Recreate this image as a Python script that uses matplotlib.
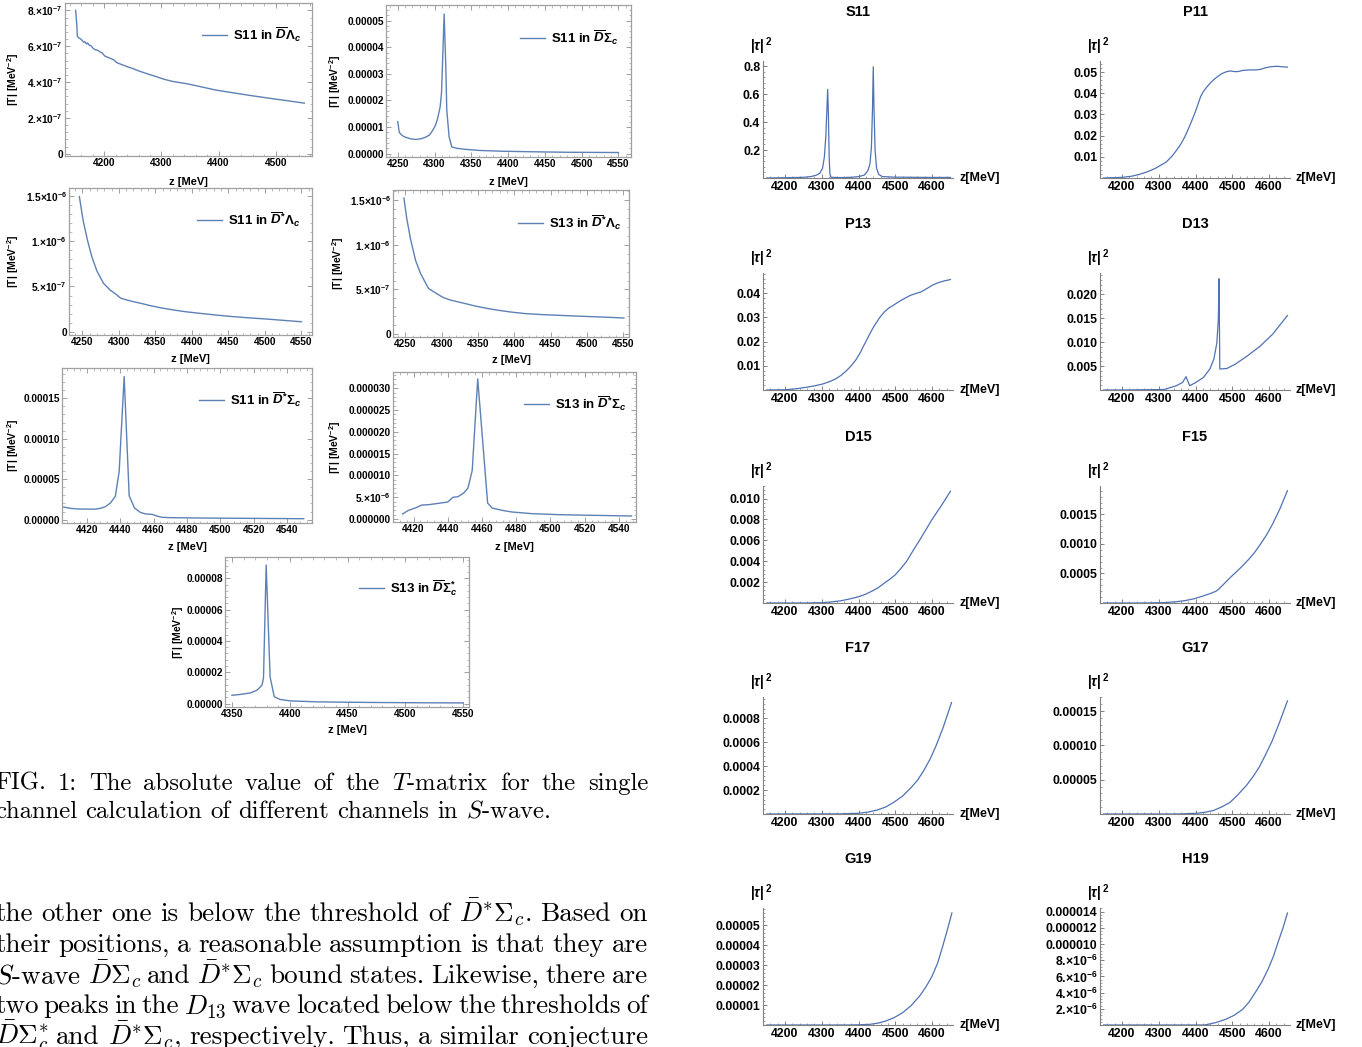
import matplotlib
matplotlib.use("Agg")
import matplotlib.pyplot as plt
from matplotlib.ticker import FixedLocator, FixedFormatter, AutoMinorLocator

W, H, DPI = 1362, 1047, 100

plt.rcParams.update({
    "font.family": ["Liberation Sans", "DejaVu Sans"],
    "font.weight": "bold",
    "mathtext.fontset": "custom",
    "mathtext.rm": "Liberation Sans:bold",
    "mathtext.it": "Liberation Sans:italic:bold",
    "mathtext.bf": "Liberation Sans:bold",
    "mathtext.sf": "Liberation Sans:bold",
    "mathtext.default": "it",
})

# ------------------------------------------------------------------ data
# Left figure: |T| for single channel S-wave calculations
l1_z = [4150, 4152, 4153, 4156, 4159, 4162, 4164, 4166, 4169, 4171, 4174, 4177, 4180, 4184, 4188,
        4192, 4197, 4201, 4206, 4210, 4216, 4222, 4230, 4239, 4250, 4262, 4276, 4291, 4305, 4320,
        4345, 4367, 4395, 4425, 4455, 4483, 4515, 4550]
l1_t = [8.0e-7, 7.2e-7, 6.55e-7, 6.45e-7, 6.4e-7, 6.3e-7, 6.22e-7, 6.25e-7, 6.12e-7, 6.18e-7, 6.05e-7,
        6.02e-7, 5.9e-7, 5.8e-7, 5.78e-7, 5.7e-7, 5.6e-7, 5.45e-7, 5.38e-7, 5.33e-7, 5.25e-7, 5.08e-7,
        4.98e-7, 4.87e-7, 4.75e-7, 4.6e-7, 4.45e-7, 4.3e-7, 4.15e-7, 4.03e-7, 3.9e-7, 3.75e-7, 3.55e-7,
        3.4e-7, 3.25e-7, 3.12e-7, 2.98e-7, 2.82e-7]

l2_z = [4250, 4252, 4256, 4260, 4267, 4274, 4282, 4288, 4293, 4297, 4301, 4304, 4307.6, 4309.5,
        4310.7, 4313, 4315.3, 4316.6, 4319.8, 4323.4, 4330, 4342, 4360, 4390, 4430, 4480, 4550]
l2_t = [1.2e-5, 0.8e-5, 0.68e-5, 0.62e-5, 0.56e-5, 0.53e-5, 0.56e-5, 0.62e-5, 0.7e-5, 0.85e-5,
        1.05e-5, 1.3e-5, 1.76e-5, 2.3e-5, 3.27e-5, 5.25e-5, 3.27e-5, 1.63e-5, 0.63e-5, 0.25e-5,
        0.2e-5, 0.16e-5, 0.12e-5, 0.09e-5, 0.07e-5, 0.05e-5, 0.04e-5]

l3_z = [4246, 4251, 4257, 4263, 4270, 4279, 4288, 4296, 4301, 4304, 4312, 4320, 4332, 4343, 4358,
        4375, 4392, 4411, 4433, 4457, 4480, 4502, 4526, 4550]
l3_t = [1.493e-6, 1.235e-6, 1.014e-6, 0.83e-6, 0.671e-6, 0.535e-6, 0.461e-6, 0.415e-6, 0.38e-6,
        0.367e-6, 0.348e-6, 0.332e-6, 0.31e-6, 0.288e-6, 0.263e-6, 0.24e-6, 0.22e-6, 0.203e-6,
        0.184e-6, 0.166e-6, 0.152e-6, 0.14e-6, 0.125e-6, 0.11e-6]

l4_z = [4248, 4252, 4257, 4264, 4271, 4282, 4292, 4300, 4304, 4313, 4323, 4335, 4346, 4362, 4378,
        4396, 4415, 4438, 4461, 4484, 4507, 4529, 4551]
l4_t = [1.52e-6, 1.29e-6, 1.068e-6, 0.826e-6, 0.677e-6, 0.51e-6, 0.46e-6, 0.42e-6, 0.405e-6,
        0.38e-6, 0.361e-6, 0.338e-6, 0.316e-6, 0.29e-6, 0.268e-6, 0.248e-6, 0.231e-6, 0.22e-6,
        0.212e-6, 0.204e-6, 0.197e-6, 0.19e-6, 0.182e-6]

l5_z = [4406, 4410, 4414, 4418, 4422, 4425, 4428, 4431, 4434, 4437, 4439.3, 4442.3, 4445.3, 4448.5,
        4452, 4455.3, 4459, 4462, 4465, 4470, 4490, 4520, 4550]
l5_t = [1.56e-5, 1.4e-5, 1.33e-5, 1.31e-5, 1.3e-5, 1.31e-5, 1.4e-5, 1.6e-5, 2.05e-5, 2.88e-5,
        5.96e-5, 17.67e-5, 2.96e-5, 1.44e-5, 0.9e-5, 0.7e-5, 0.66e-5, 0.45e-5, 0.29e-5, 0.25e-5,
        0.2e-5, 0.16e-5, 0.12e-5]

l6_z = [4413.6, 4417, 4421, 4424.9, 4428.8, 4434.6, 4440, 4443, 4446, 4449.3, 4451.8, 4454.3,
        4457.5, 4463.3, 4465.9, 4471.7, 4477.6, 4489.3, 4505, 4524.4, 4547.4]
l6_t = [1.15e-6, 1.98e-6, 2.52e-6, 3.2e-6, 3.28e-6, 3.59e-6, 3.89e-6, 4.96e-6, 5.11e-6, 5.95e-6,
        7.1e-6, 11.15e-6, 32.1e-6, 3.66e-6, 2.52e-6, 1.98e-6, 1.6e-6, 1.22e-6, 0.99e-6, 0.84e-6,
        0.69e-6]

l7_z = [4350, 4357, 4366, 4371.6, 4376, 4377.3, 4379.6, 4383, 4386.6, 4391.7, 4400.4, 4423, 4450,
        4481, 4515, 4550]
l7_t = [0.53e-5, 0.58e-5, 0.68e-5, 0.85e-5, 1.17e-5, 1.64e-5, 8.85e-5, 1.7e-5, 0.43e-5, 0.26e-5,
        0.17e-5, 0.11e-5, 0.085e-5, 0.064e-5, 0.05e-5, 0.04e-5]

left_labels = [r"S11 in $\overline{D}\Lambda_c$", r"S11 in $\overline{D}\Sigma_c$",
               r"S11 in $\overline{D}^{*}\Lambda_c$", r"S13 in $\overline{D}^{*}\Lambda_c$",
               r"S11 in $\overline{D}^{*}\Sigma_c$", r"S13 in $\overline{D}^{*}\Sigma_c$",
               r"S13 in $\overline{D}\Sigma_c^{*}$"]

l1_xt = [4200, 4300, 4400, 4500]
l1_yt = [0, 2e-7, 4e-7, 6e-7, 8e-7]
l1_yl = ["0", r"2.×10$^{-7}$", r"4.×10$^{-7}$", r"6.×10$^{-7}$", r"8.×10$^{-7}$"]
l2_xt = [4250, 4300, 4350, 4400, 4450, 4500, 4550]
l2_yt = [0, 1e-5, 2e-5, 3e-5, 4e-5, 5e-5]
l2_yl = ["0.00000", "0.00001", "0.00002", "0.00003", "0.00004", "0.00005"]
l3_xt = [4250, 4300, 4350, 4400, 4450, 4500, 4550]
l3_yt = [0, 5e-7, 1e-6, 1.5e-6]
l3_yl = ["0", r"5.×10$^{-7}$", r"1.×10$^{-6}$", r"1.5×10$^{-6}$"]
l5_xt = [4420, 4440, 4460, 4480, 4500, 4520, 4540]
l5_yt = [0, 5e-5, 1e-4, 1.5e-4]
l5_yl = ["0.00000", "0.00005", "0.00010", "0.00015"]
l6_yt = [0, 5e-6, 1e-5, 1.5e-5, 2e-5, 2.5e-5, 3e-5]
l6_yl = ["0.000000", r"5.×10$^{-6}$", "0.000010", "0.000015", "0.000020", "0.000025", "0.000030"]
l7_xt = [4350, 4400, 4450, 4500, 4550]
l7_yt = [0, 2e-5, 4e-5, 6e-5, 8e-5]
l7_yl = ["0.00000", "0.00002", "0.00004", "0.00006", "0.00008"]

# Right figure: |tau|^2 for partial waves
r_titles = ["S11", "P11", "P13", "D13", "D15", "F15", "F17", "G17", "G19", "H19"]
r_xt = [4200, 4300, 4400, 4500, 4600]

s11_z = [4150, 4200, 4250, 4270, 4285, 4295, 4302, 4307, 4311, 4314, 4316, 4318, 4320, 4322, 4325,
         4350, 4380, 4400, 4415, 4425, 4431, 4435, 4438, 4440, 4442, 4445, 4449, 4455, 4465, 4500,
         4550, 4600, 4650]
s11_v = [0.0, 0.002, 0.005, 0.01, 0.02, 0.035, 0.07, 0.15, 0.3, 0.5, 0.633, 0.45, 0.15, 0.03, 0.005,
         0.003, 0.005, 0.01, 0.02, 0.05, 0.1, 0.22, 0.5, 0.795, 0.5, 0.2, 0.07, 0.025, 0.01, 0.006,
         0.005, 0.004, 0.004]
p11_z = [4150, 4200, 4225, 4245, 4270, 4290, 4305, 4320, 4337, 4350, 4360, 4371, 4385, 4399, 4407,
         4414, 4422, 4430, 4440, 4450, 4461, 4472, 4485, 4495, 4505, 4515, 4530, 4550, 4565, 4578,
         4590, 4605, 4620, 4635, 4650]
p11_v = [0.0, 0.0003, 0.0008, 0.0016, 0.003, 0.0045, 0.006, 0.0075, 0.0105, 0.0135, 0.016, 0.0195,
         0.025, 0.031, 0.035, 0.0385, 0.041, 0.0428, 0.0448, 0.0465, 0.048, 0.0493, 0.0502, 0.0505,
         0.0502, 0.0502, 0.0508, 0.051, 0.051, 0.0513, 0.052, 0.0525, 0.0527, 0.0525, 0.0523]
p13_z = [4150, 4200, 4230, 4257, 4280, 4303, 4320, 4337, 4352, 4366, 4380, 4393, 4405, 4413, 4420,
         4430, 4440, 4450, 4458, 4470, 4482, 4495, 4510, 4525, 4540, 4555, 4570, 4585, 4600, 4615,
         4632, 4650]
p13_v = [0.0, 0.0001, 0.0005, 0.0011, 0.0017, 0.0025, 0.0034, 0.0045, 0.006, 0.0078, 0.01, 0.0125,
         0.0155, 0.018, 0.02, 0.023, 0.0258, 0.0282, 0.03, 0.0322, 0.0338, 0.035, 0.0365, 0.0378,
         0.039, 0.0398, 0.0405, 0.0418, 0.0432, 0.0442, 0.045, 0.0456]
d13_z = [4150, 4200, 4314, 4348, 4365, 4374, 4384, 4399, 4421, 4439, 4450, 4458, 4462, 4464, 4466,
         4485, 4508, 4542, 4576, 4610, 4650]
d13_v = [0.0, 0.0, 0.0001, 0.0009, 0.0016, 0.0028, 0.0009, 0.0015, 0.0026, 0.0044, 0.0065, 0.0099,
         0.0148, 0.0233, 0.0044, 0.0045, 0.0054, 0.0072, 0.0092, 0.0117, 0.0156]
d15_z = [4150, 4250, 4300, 4325, 4350, 4375, 4400, 4420, 4440, 4455, 4470, 4486, 4500, 4515, 4531,
         4548, 4566, 4583, 4600, 4625, 4650]
d15_v = [0.0, 0.0, 0.00003, 0.0001, 0.0002, 0.00038, 0.0006, 0.00085, 0.0012, 0.0015, 0.0019,
         0.0023, 0.0027, 0.0033, 0.004, 0.005, 0.006, 0.007, 0.008, 0.0093, 0.0107]
f15_z = [4150, 4250, 4314, 4345, 4371, 4395, 4416, 4440, 4456, 4464, 4480, 4496, 4520, 4542, 4560,
         4576, 4593, 4610, 4630, 4650]
f15_v = [0.0, 0.0, 0.000006, 0.00002, 0.00004, 0.00007, 0.00011, 0.00016, 0.0002, 0.00024, 0.00034,
         0.00044, 0.00058, 0.00072, 0.00085, 0.00099, 0.00115, 0.00134, 0.0016, 0.0019]
f17_z = [4150, 4350, 4400, 4425, 4451, 4475, 4497, 4520, 4543, 4560, 4577, 4595, 4611, 4630, 4653]
f17_v = [0.0, 0.000001, 0.000006, 0.000015, 0.000033, 0.00006, 0.0001, 0.00015, 0.00022, 0.00028,
         0.00036, 0.00046, 0.00057, 0.00072, 0.00093]
g17_z = [4150, 4350, 4402, 4425, 4448, 4470, 4494, 4515, 4539, 4557, 4574, 4590, 4608, 4628, 4650]
g17_v = [0.0, 0.0, 0.000001, 0.0000025, 0.000005, 0.00001, 0.000017, 0.000028, 0.000042, 0.000055,
         0.000069, 0.000086, 0.000106, 0.000133, 0.000165]
g19_z = [4150, 4380, 4429, 4452, 4474, 4497, 4520, 4543, 4566, 4583, 4600, 4615, 4629, 4642, 4654]
g19_v = [0.0, 0.0, 0.0000003, 0.0000009, 0.000002, 0.0000037, 0.0000062, 0.0000097, 0.0000145,
         0.000019, 0.0000245, 0.000031, 0.0000395, 0.000048, 0.0000562]
h19_z = [4150, 4380, 4425, 4455, 4482, 4505, 4528, 4545, 4562, 4580, 4597, 4612, 4625, 4638, 4650]
h19_v = [0.0, 0.0, 0.0, 0.3e-6, 0.7e-6, 1.2e-6, 1.93e-6, 2.8e-6, 3.98e-6, 5.3e-6, 6.86e-6, 8.5e-6,
         10.3e-6, 12.0e-6, 13.84e-6]

r_yticks = [
    ([0.2, 0.4, 0.6, 0.8], ["0.2", "0.4", "0.6", "0.8"]),
    ([0.01, 0.02, 0.03, 0.04, 0.05], ["0.01", "0.02", "0.03", "0.04", "0.05"]),
    ([0.01, 0.02, 0.03, 0.04], ["0.01", "0.02", "0.03", "0.04"]),
    ([0.005, 0.010, 0.015, 0.020], ["0.005", "0.010", "0.015", "0.020"]),
    ([0.002, 0.004, 0.006, 0.008, 0.010], ["0.002", "0.004", "0.006", "0.008", "0.010"]),
    ([0.0005, 0.0010, 0.0015], ["0.0005", "0.0010", "0.0015"]),
    ([0.0002, 0.0004, 0.0006, 0.0008], ["0.0002", "0.0004", "0.0006", "0.0008"]),
    ([0.00005, 0.00010, 0.00015], ["0.00005", "0.00010", "0.00015"]),
    ([1e-5, 2e-5, 3e-5, 4e-5, 5e-5], ["0.00001", "0.00002", "0.00003", "0.00004", "0.00005"]),
    ([2e-6, 4e-6, 6e-6, 8e-6, 1e-5, 1.2e-5, 1.4e-5],
     [r"2.×10$^{-6}$", r"4.×10$^{-6}$", r"6.×10$^{-6}$", r"8.×10$^{-6}$",
      "0.000010", "0.000012", "0.000014"]),
]
r_ymax = [0.836, 0.0552, 0.0483, 0.0245, 0.0112, 0.00198, 0.000976, 0.0001707, 5.87e-5, 14.46e-6]

caption_lines = ["FIG. 1: The absolute value of the $T$-matrix for the single",
                 "channel calculation of different channels in $S$-wave."]
body_lines = [r"the other one is below the threshold of $\bar{D}^{*}\Sigma_c$. Based on",
              "their positions, a reasonable assumption is that they are",
              r"$S$-wave $\bar{D}\Sigma_c$ and $\bar{D}^{*}\Sigma_c$ bound states. Likewise, there are",
              r"two peaks in the $D_{13}$ wave located below the thresholds of",
              r"$\bar{D}\Sigma_c^{*}$ and $\bar{D}^{*}\Sigma_c$, respectively. Thus, a similar conjecture"]

# ------------------------------------------------------------------ style / layout
LBLUE = "#5e81b5"
RBLUE = "#4f72b3"
FRAME = "#a0a0a0"
AXC = "#808080"

fig = plt.figure(figsize=(W / DPI, H / DPI), dpi=DPI)


def px_axes(l, t, r, b):
    return fig.add_axes([l / W, 1 - b / H, (r - l) / W, (b - t) / H])


def fx(x):
    return x / W


def fy(y):
    return 1 - y / H


left_layout = [
    dict(box=(65, 3, 312, 156), xlim=(4131.4, 4563.4), ylim=(-0.13e-7, 8.41e-7), leg=(202, 35), ylx=13, xly=182),
    dict(box=(386, 5, 631, 157), xlim=(4234, 4567), ylim=(-0.128e-5, 5.59e-5), leg=(520, 38), ylx=335, xly=182),
    dict(box=(69, 188, 312, 335), xlim=(4231.8, 4564.5), ylim=(-0.365e-7, 1.588e-6), leg=(197, 220), ylx=13, xly=359),
    dict(box=(393, 190, 629, 337), xlim=(4233, 4558), ylim=(-0.3e-7, 1.61e-6), leg=(518, 223), ylx=338, xly=360),
    dict(box=(62, 368, 312, 523), xlim=(4405, 4555), ylim=(-0.41e-5, 18.73e-5), leg=(199, 400), ylx=13, xly=547),
    dict(box=(393, 372, 636, 522), xlim=(4408, 4550), ylim=(-0.69e-6, 3.37e-5), leg=(524, 404), ylx=335, xly=547),
    dict(box=(225, 557, 469, 707), xlim=(4344, 4555), ylim=(-0.22e-5, 9.36e-5), leg=(359, 588), ylx=178, xly=730),
]

left_series = [(l1_z, l1_t, l1_xt, l1_yt, l1_yl), (l2_z, l2_t, l2_xt, l2_yt, l2_yl),
               (l3_z, l3_t, l3_xt, l3_yt, l3_yl), (l4_z, l4_t, l3_xt, l3_yt, l3_yl),
               (l5_z, l5_t, l5_xt, l5_yt, l5_yl), (l6_z, l6_t, l5_xt, l6_yt, l6_yl),
               (l7_z, l7_t, l7_xt, l7_yt, l7_yl)]

for lay, (z, t, xt, yt, yl), lab in zip(left_layout, left_series, left_labels):
    l, tp, r, b = lay["box"]
    ax = px_axes(l, tp, r, b)
    ax.plot(z, t, color=LBLUE, lw=1.0, label=lab)
    ax.set_xlim(*lay["xlim"])
    ax.set_ylim(*lay["ylim"])
    ax.xaxis.set_major_locator(FixedLocator(xt))
    ax.xaxis.set_major_formatter(FixedFormatter([str(v) for v in xt]))
    ax.xaxis.set_minor_locator(AutoMinorLocator(5))
    ax.yaxis.set_major_locator(FixedLocator(yt))
    ax.yaxis.set_major_formatter(FixedFormatter(yl))
    ax.yaxis.set_minor_locator(AutoMinorLocator(5))
    for s in ax.spines.values():
        s.set_color(FRAME)
        s.set_linewidth(0.9)
    ax.tick_params(which="both", direction="in", top=True, right=True, color=FRAME,
                   labelsize=7.3, pad=1.5, labelcolor="black")
    ax.tick_params(which="major", length=3.5, width=0.7)
    ax.tick_params(which="minor", length=1.8, width=0.5)
    lx, ly = lay["leg"]
    ax.legend(loc="center left", bbox_to_anchor=(fx(lx), fy(ly)), bbox_transform=fig.transFigure,
              frameon=False, fontsize=9.5, handlelength=1.9, handletextpad=0.45, borderpad=0,
              borderaxespad=0)
    fig.text(fx((l + r) / 2), fy(lay["xly"]), "z [MeV]", ha="center", va="center", fontsize=8)
    fig.text(fx(lay["ylx"]), fy((tp + b) / 2), r"|T| [MeV$^{-2}$]", ha="center", va="center",
             rotation=90, fontsize=7.5)

# right panels
ROW_BOTTOM = [178, 390, 603, 814, 1025]
COL_LEFT = [763, 1100]
AX_W, AX_H = 190, 117
right_series = [(s11_z, s11_v), (p11_z, p11_v), (p13_z, p13_v), (d13_z, d13_v), (d15_z, d15_v),
                (f15_z, f15_v), (f17_z, f17_v), (g17_z, g17_v), (g19_z, g19_v), (h19_z, h19_v)]

for i, ((z, v), title, (yt, yl), ymax) in enumerate(zip(right_series, r_titles, r_yticks, r_ymax)):
    col, row = i % 2, i // 2
    l = COL_LEFT[col]
    b = ROW_BOTTOM[row]
    ax = px_axes(l, b - AX_H, l + AX_W, b)
    ax.plot(z, v, color=RBLUE, lw=0.9)
    ax.set_xlim(4140, 4657)
    ax.set_ylim(0, ymax)
    for s in ["top", "right"]:
        ax.spines[s].set_visible(False)
    for s in ["left", "bottom"]:
        ax.spines[s].set_color(AXC)
        ax.spines[s].set_linewidth(0.8)
    ax.xaxis.set_major_locator(FixedLocator(r_xt))
    ax.xaxis.set_major_formatter(FixedFormatter([str(x) for x in r_xt]))
    ax.xaxis.set_minor_locator(AutoMinorLocator(5))
    ax.yaxis.set_major_locator(FixedLocator(yt))
    ax.yaxis.set_major_formatter(FixedFormatter(yl))
    ax.yaxis.set_minor_locator(AutoMinorLocator(5))
    ax.tick_params(which="both", direction="in", color=AXC, labelsize=8.8, pad=2,
                   labelcolor="black")
    ax.tick_params(which="major", length=3.2, width=0.7)
    ax.tick_params(which="minor", length=1.6, width=0.5)
    fig.text(fx(l + AX_W / 2), fy(b - 166), title, ha="center", va="center", fontsize=10.5,
             fontweight="bold")
    fig.text(fx(l - 2), fy(b - AX_H - 15), r"$|\tau|^{\,2}$", ha="center", va="center", fontsize=10)
    fig.text(fx(l + AX_W + 6), fy(b), "z[MeV]", ha="left", va="center", fontsize=9)

# text (caption and body), justified
renderer = fig.canvas.get_renderer()


def place_line(s, x0, x1, yb, size, justify):
    toks = s.split(" ")
    objs = [fig.text(0, 0, tk, fontsize=size, family=["cmr10", "DejaVu Serif"], math_fontfamily="cm",
                     fontweight="normal", va="baseline", ha="left") for tk in toks]
    ws = [o.get_window_extent(renderer).width for o in objs]
    if justify and len(toks) > 1:
        gap = (x1 - x0 - sum(ws)) / (len(toks) - 1)
    else:
        gap = size * DPI / 72 * 0.333
    x = x0
    for o, w in zip(objs, ws):
        o.set_position((fx(x), fy(yb)))
        x += w + gap


X0, X1 = -5, 648
cap_base = [790, 818]
body_base = [921, 952, 983, 1013, 1044]
for k, (s, yb) in enumerate(zip(caption_lines, cap_base)):
    place_line(s, X0, X1, yb, 17.8, justify=(k == 0))
for s, yb in zip(body_lines, body_base):
    place_line(s, X0, X1, yb, 19.5, justify=True)

fig.savefig("out.png", dpi=DPI)
